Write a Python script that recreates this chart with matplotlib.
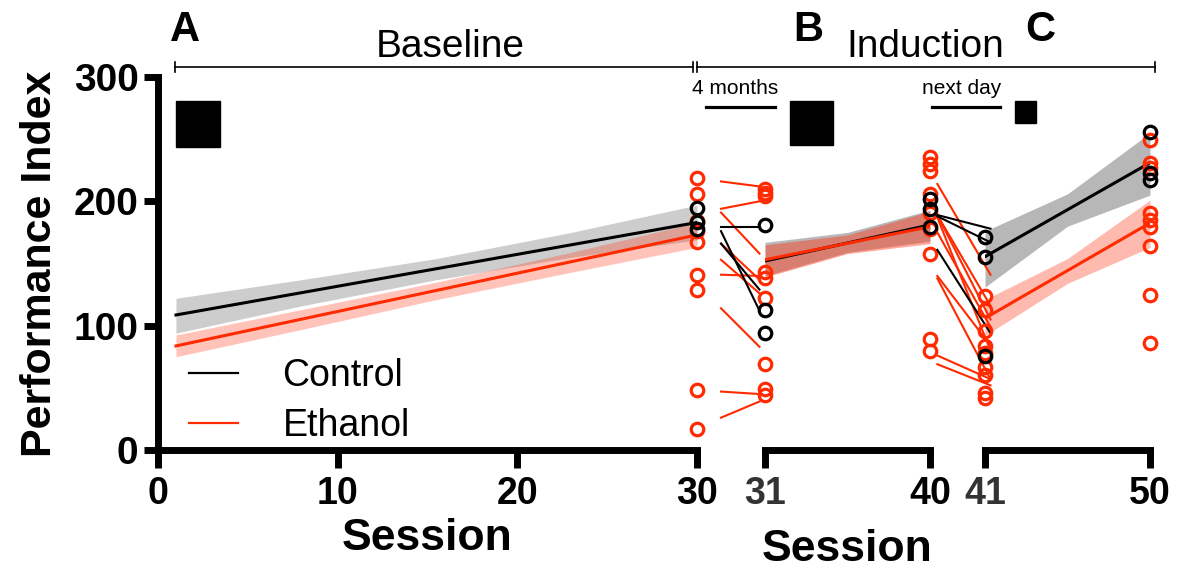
import numpy as np
import matplotlib.pyplot as plt
from matplotlib.patches import Rectangle
from matplotlib.lines import Line2D

plt.rcParams['font.family'] = ['Liberation Sans', 'DejaVu Sans']

W, H = 1186, 572
BLACK = '#000000'
RED = '#ff2a00'

# ---- panel A: baseline regression, sessions 1-30
a_sess = [1, 8, 15.5, 23, 30]
a_ctl_fit = [108.6, 126.5, 145.7, 165, 183]
a_ctl_lo = [94, 116, 137, 155, 169]
a_ctl_hi = [122, 137, 154, 175, 197]
a_eth_fit = [83.7, 105, 128, 151, 173]
a_eth_lo = [75, 97, 121, 143, 163]
a_eth_hi = [92.5, 113, 135, 159, 183]
ctl_s30 = [195, 183, 178]
eth_s30 = [219, 206, 184, 176, 167, 141, 129, 48, 17]

# ---- panel B: sessions 31-40
b_sess = [31, 35.5, 40]
b_ctl_fit = [152, 166.5, 181]
b_ctl_lo = [140, 159, 168]
b_ctl_hi = [167, 175, 193]
b_eth_fit = [153, 166, 179.6]
b_eth_lo = [139, 158, 166]
b_eth_hi = [165, 173, 192]
ctl_s31 = [181, 113, 94]
eth_s31 = [210, 207, 204, 143, 138, 122, 69, 49, 44]
ctl_s40 = [202, 194, 179]
eth_s40 = [236, 230, 224, 206, 191, 178, 158, 89, 80]

# ---- panel C: sessions 41-50
c_sess = [41, 45.5, 50]
c_ctl_fit = [155.5, 193, 231]
c_ctl_lo = [131, 180, 205]
c_ctl_hi = [176, 206, 255]
c_eth_fit = [106, 144, 182.6]
c_eth_lo = [92, 134, 163]
c_eth_hi = [121, 154, 201]
ctl_s41 = [171, 155, 76]
eth_s41 = [124, 113, 96, 84, 78, 67, 60, 46, 42]
ctl_s50 = [256, 223, 217]
eth_s50 = [249, 231, 227, 191, 185, 179, 164, 125, 86]

# ---- individual changes across the breaks (before, after)
gap1_ctl = [(179, 179), (176, 112), (166, 129)]
gap1_eth = [(216, 212), (194, 200), (191, 158), (166, 137), (153, 126),
            (141, 140), (114, 83), (47, 45), (26, 39)]
gap2_ctl = [(189, 178), (188, 167), (161, 94)]
gap2_eth = [(214, 141), (189, 116), (189, 105), (187, 80), (175, 99),
            (140, 84), (138, 57), (76, 57), (69, 52)]


def fx(px):
    return px / W


def fy(py):
    return 1 - py / H


fig = plt.figure(figsize=(W / 100, H / 100), dpi=100)
y0, y1 = fy(450), fy(77)
ax_a = fig.add_axes([fx(158), y0, fx(697) - fx(158), y1 - y0])
ax_b = fig.add_axes([fx(765), y0, fx(930) - fx(765), y1 - y0])
ax_c = fig.add_axes([fx(985), y0, fx(1150) - fx(985), y1 - y0])

SPW = 5
for ax in (ax_a, ax_b, ax_c):
    ax.set_ylim(0, 300)
    ax.patch.set_alpha(0)
    for s in ('top', 'right'):
        ax.spines[s].set_visible(False)
    ax.spines['bottom'].set_linewidth(SPW)
    ax.spines['left'].set_linewidth(SPW)
    ax.tick_params(axis='x', length=13, width=SPW, labelsize=27, pad=6)
    ax.tick_params(axis='y', length=10, width=SPW, labelsize=28, pad=4)

ax_a.set_xlim(0, 30)
ax_a.set_xticks([0, 10, 20, 30])
ax_a.set_yticks([0, 100, 200, 300])
ax_b.set_xlim(31, 40)
ax_b.set_xticks([31, 40])
ax_c.set_xlim(41, 50)
ax_c.set_xticks([41, 50])
for ax in (ax_b, ax_c):
    ax.spines['left'].set_visible(False)
    ax.set_yticks([])
for ax in (ax_a, ax_b, ax_c):
    for lab in ax.get_xticklabels() + ax.get_yticklabels():
        lab.set_fontweight('bold')
ax_b.get_xticklabels()[0].set_color('#333333')
ax_c.get_xticklabels()[0].set_color('#333333')


def panel(ax, sess, cfit, clo, chi, efit, elo, ehi, a_gray, a_red):
    ax.fill_between(sess, clo, chi, color='#707070', alpha=a_gray, lw=0)
    ax.fill_between(sess, elo, ehi, color='#ff3a1a', alpha=a_red, lw=0)
    ax.plot([sess[0], sess[-1]], [cfit[0], cfit[-1]], color=BLACK, lw=2.2, zorder=4)
    ax.plot([sess[0], sess[-1]], [efit[0], efit[-1]], color=RED, lw=2.2, zorder=4)


panel(ax_a, a_sess, a_ctl_fit, a_ctl_lo, a_ctl_hi, a_eth_fit, a_eth_lo, a_eth_hi, 0.35, 0.3)
panel(ax_b, b_sess, b_ctl_fit, b_ctl_lo, b_ctl_hi, b_eth_fit, b_eth_lo, b_eth_hi, 0.5, 0.45)
panel(ax_c, c_sess, c_ctl_fit, c_ctl_lo, c_ctl_hi, c_eth_fit, c_eth_lo, c_eth_hi, 0.5, 0.35)

mk = dict(marker='o', ms=9, mew=2.3, mfc='none', ls='none', clip_on=False, zorder=5)
for ax, s, ctl, eth in [(ax_a, 30, ctl_s30, eth_s30), (ax_b, 31, ctl_s31, eth_s31),
                        (ax_b, 40, ctl_s40, eth_s40), (ax_c, 41, ctl_s41, eth_s41),
                        (ax_c, 50, ctl_s50, eth_s50)]:
    ax.plot([s] * len(eth), eth, mec=RED, **mk)
    ax.plot([s] * len(ctl), ctl, mec=BLACK, **mk)

# slopes drawn in the gaps between panels
for ax, xs, ctl, eth in [(ax_b, [28.6, 30.7], gap1_ctl, gap1_eth),
                         (ax_c, [38.4, 41.3], gap2_ctl, gap2_eth)]:
    for a, b in eth:
        ax.plot(xs, [a, b], color=RED, lw=1.5, clip_on=False, zorder=3)
    for a, b in ctl:
        ax.plot(xs, [a, b], color=BLACK, lw=1.5, clip_on=False, zorder=3)

ax_a.set_ylabel('Performance Index', fontsize=31, fontweight='bold', labelpad=10)
ax_a.set_xlabel('Session', fontsize=32, fontweight='bold', labelpad=4)
ax_b.set_xlabel('Session', fontsize=32, fontweight='bold', labelpad=12)

leg = ax_a.legend([Line2D([], [], color=BLACK, lw=1.6), Line2D([], [], color=RED, lw=1.6)],
                  ['Control', 'Ethanol'], loc='lower left', frameon=False,
                  bbox_to_anchor=(fx(155), fy(478)), bbox_transform=fig.transFigure,
                  fontsize=27, handlelength=1.3, handletextpad=1.2, labelspacing=0.38)

# header brackets and labels
def bracket(x0, x1, y):
    fig.add_artist(Line2D([fx(x0), fx(x1)], [fy(y), fy(y)], color=BLACK, lw=1.2))
    for x in (x0, x1):
        fig.add_artist(Line2D([fx(x), fx(x)], [fy(y - 5), fy(y + 5)], color=BLACK, lw=1.2))


bracket(175, 693, 67)
bracket(697, 1155, 67)
fig.text(fx(450), fy(47), 'Baseline', fontsize=28, ha='center', va='center')
fig.text(fx(925), fy(47), 'Induction', fontsize=28, ha='center', va='center')
for t, x in [('A', 185), ('B', 808), ('C', 1040)]:
    fig.text(fx(x), fy(30), t, fontsize=30, fontweight='bold', ha='center', va='center')
fig.text(fx(735), fy(88), '4 months', fontsize=15, ha='center', va='center')
fig.text(fx(962), fy(88), 'next day', fontsize=15, ha='center', va='center')
for x0, x1 in [(706, 775), (932, 1000)]:
    fig.add_artist(Line2D([fx(x0), fx(x1)], [fy(107), fy(107)], color=BLACK, lw=2.3))
for x0, x1, ya, yb in [(176, 220, 101, 147), (790, 833, 101, 145), (1015, 1036, 101, 123)]:
    fig.add_artist(Rectangle((fx(x0), fy(yb)), fx(x1) - fx(x0), fy(ya) - fy(yb),
                             transform=fig.transFigure, color=BLACK))

fig.savefig('out.png', dpi=100)
